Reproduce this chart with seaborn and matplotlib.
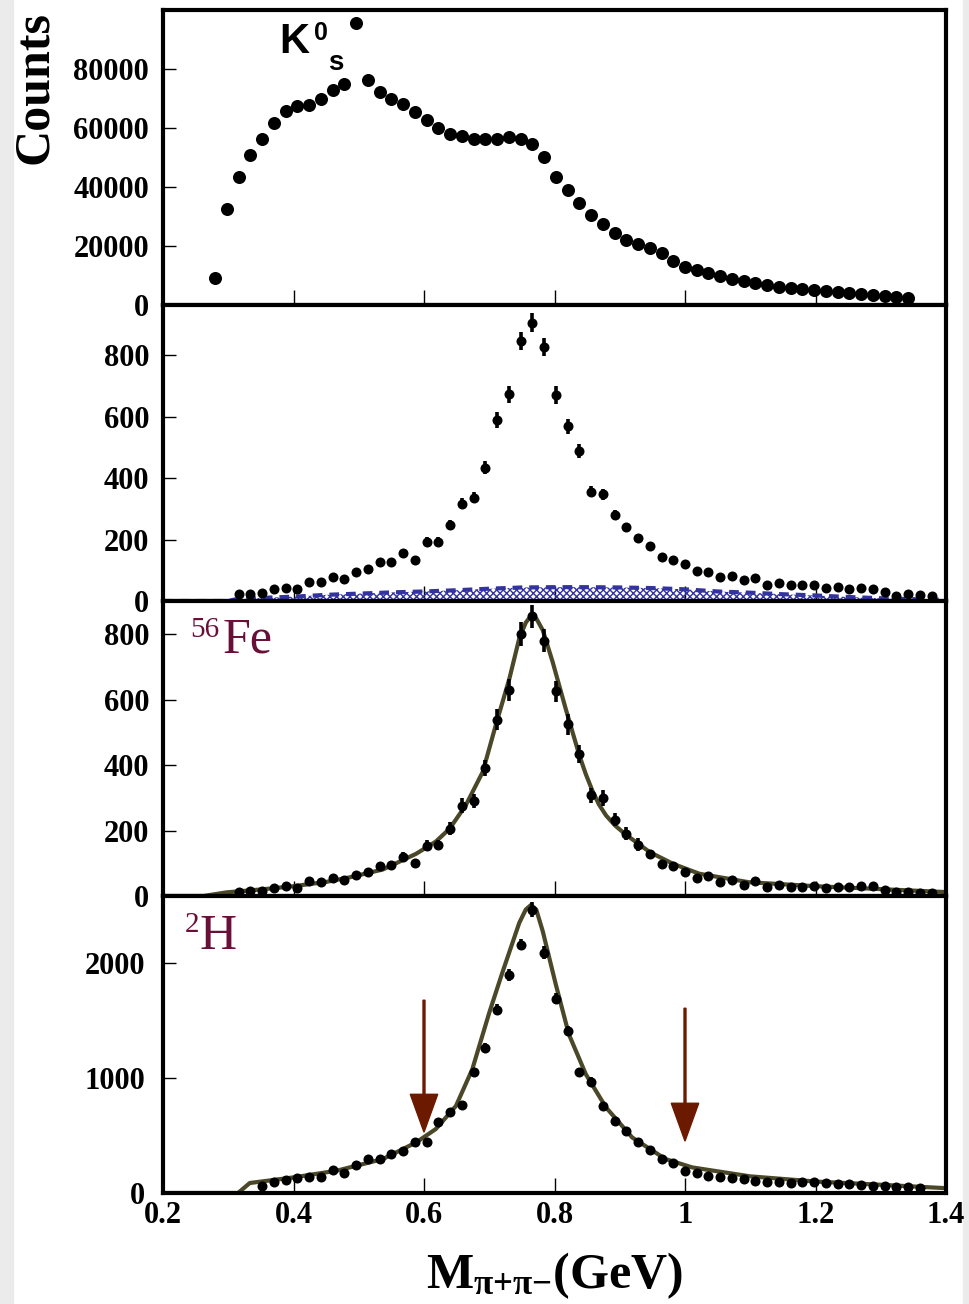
import matplotlib
matplotlib.use("Agg")
import matplotlib.pyplot as plt
import seaborn as sns
from matplotlib.patches import Rectangle

sns.set_style("white")
plt.rcParams['font.family'] = ['Liberation Serif', 'DejaVu Serif']
plt.rcParams['text.color'] = 'black'
plt.rcParams['axes.labelcolor'] = 'black'
plt.rcParams['xtick.color'] = 'black'
plt.rcParams['ytick.color'] = 'black'
plt.rcParams['mathtext.fontset'] = 'custom'
plt.rcParams['mathtext.rm'] = 'Liberation Serif:bold'
plt.rcParams['mathtext.bf'] = 'Liberation Serif:bold'
plt.rcParams['mathtext.it'] = 'Liberation Serif:bold'
plt.rcParams['hatch.linewidth'] = 1.0
plt.rcParams['lines.scale_dashes'] = False

# bin centres (GeV)
mass = [0.280, 0.298, 0.316, 0.334, 0.352, 0.370, 0.388, 0.406, 0.424, 0.442,
        0.460, 0.478, 0.496, 0.514, 0.532, 0.550, 0.568, 0.586, 0.604, 0.622,
        0.640, 0.658, 0.676, 0.694, 0.712, 0.730, 0.748, 0.766, 0.784, 0.802,
        0.820, 0.838, 0.856, 0.874, 0.892, 0.910, 0.928, 0.946, 0.964, 0.982,
        1.000, 1.018, 1.036, 1.054, 1.072, 1.090, 1.108, 1.126, 1.144, 1.162,
        1.180, 1.198, 1.216, 1.234, 1.252, 1.270, 1.288, 1.306, 1.324, 1.342,
        1.360, 1.378]

# panel 1 : K0s counts (bins 0..59)
kaon_counts = [9300, 32400, 43400, 50900, 56000, 61600, 65500, 67200, 67600, 69700,
               72600, 74900, 95400, 76000, 72200, 69800, 68000, 65400, 62700, 60000,
               58000, 57100, 56200, 56000, 56300, 56700, 56300, 54300, 50200, 43400,
               38800, 34500, 30500, 27500, 24500, 22000, 20700, 19300, 17500, 15000,
               13000, 11800, 10800, 9800, 8800, 8000, 7400, 6800, 6200, 5800,
               5400, 5100, 4700, 4400, 4000, 3700, 3300, 3000, 2800, 2400]

# panel 2 : raw rho candidates (bins 2..61)
raw_counts = [23, 23, 27, 38, 43, 38, 63, 63, 79, 72,
              94, 103, 127, 128, 155, 133, 193, 193, 247, 316,
              336, 434, 589, 672, 846, 906, 826, 670, 568, 488,
              356, 347, 280, 240, 205, 178, 142, 133, 119, 98,
              95, 79, 82, 67, 74, 53, 57, 51, 51, 51,
              41, 45, 39, 41, 39, 29, 16, 23, 20, 16]
raw_err = [5, 5, 5, 6, 7, 6, 8, 8, 9, 8,
           10, 10, 11, 11, 12, 12, 14, 14, 16, 18,
           18, 21, 25, 27, 29, 30, 29, 29, 25, 24,
           18, 18, 17, 15, 14, 13, 12, 12, 11, 10,
           10, 9, 9, 8, 9, 7, 8, 7, 7, 7,
           6, 7, 6, 6, 6, 5, 4, 5, 4, 4]

# background under panel 2
bkg_mass = [0.20, 0.30, 0.31, 0.35, 0.40, 0.45, 0.50, 0.55, 0.60, 0.65, 0.70, 0.75,
            0.80, 0.85, 0.90, 0.95, 1.00, 1.05, 1.10, 1.15, 1.20, 1.25, 1.30, 1.35, 1.40]
bkg_counts = [0, 0, 5, 10, 14, 20, 24, 28, 31, 35, 40, 44,
              45, 45, 44, 42, 38, 31, 27, 22, 18, 13, 9, 6, 4]

# panel 3 : 56Fe (bins 2..61)
fe_counts = [13, 16, 16, 25, 32, 24, 47, 42, 55, 50,
             64, 74, 93, 96, 120, 101, 154, 156, 205, 275,
             290, 391, 539, 629, 800, 854, 779, 625, 524, 434,
             307, 299, 233, 190, 157, 127, 98, 91, 74, 54,
             62, 44, 50, 34, 45, 26, 34, 29, 29, 32,
             24, 26, 26, 30, 30, 19, 12, 13, 8, 8]
fe_err = [5, 5, 5, 6, 7, 6, 9, 8, 9, 9,
          10, 11, 12, 12, 14, 13, 17, 16, 20, 23,
          22, 25, 31, 34, 36, 36, 35, 32, 33, 28,
          23, 24, 20, 20, 19, 14, 12, 12, 11, 9,
          10, 8, 9, 7, 8, 6, 7, 7, 7, 7,
          6, 6, 6, 7, 7, 5, 4, 5, 4, 4]
fe_fit_mass = [0.200, 0.262, 0.297, 0.350, 0.400, 0.450, 0.486, 0.537, 0.588, 0.618,
               0.639, 0.664, 0.690, 0.710, 0.731, 0.746, 0.756, 0.764, 0.772, 0.782,
               0.797, 0.817, 0.838, 0.848, 0.858, 0.868, 0.879, 0.893, 0.909, 0.946,
               0.982, 1.022, 1.098, 1.200, 1.300, 1.400]
fe_fit = [0, 0, 11, 20, 30, 43, 57, 81, 129, 166,
          205, 277, 379, 522, 665, 787, 835, 856, 848, 812,
          716, 573, 430, 372, 322, 280, 246, 215, 188, 134,
          98, 68, 42, 30, 21, 12]

# panel 4 : 2H (bins 4..60)
h_counts = [63, 93, 113, 128, 136, 136, 200, 174, 246, 296,
            296, 339, 368, 441, 441, 620, 710, 765, 1055, 1267,
            1597, 1898, 2165, 2470, 2093, 1693, 1411, 1055, 971, 754,
            629, 542, 441, 374, 296, 258, 194, 170, 150, 140,
            130, 120, 105, 100, 95, 90, 100, 95, 90, 80,
            75, 70, 60, 65, 55, 50, 45]
h_err = [9, 11, 12, 13, 13, 13, 16, 15, 18, 20,
         20, 21, 22, 24, 24, 29, 31, 32, 37, 41,
         50, 53, 51, 62, 58, 48, 43, 37, 36, 32,
         29, 27, 24, 22, 20, 18, 16, 15, 14, 13,
         13, 12, 12, 11, 11, 11, 11, 11, 11, 10,
         10, 9, 9, 9, 8, 8, 7]
h_fit_mass = [0.200, 0.315, 0.333, 0.400, 0.466, 0.537, 0.588, 0.618, 0.649, 0.674,
              0.700, 0.720, 0.746, 0.756, 0.764, 0.772, 0.782, 0.802, 0.822, 0.848,
              0.879, 0.919, 0.970, 1.011, 1.100, 1.200, 1.300, 1.400]
h_fit = [0, 0, 87, 136, 194, 296, 441, 557, 759, 1078,
         1571, 1919, 2354, 2470, 2510, 2470, 2281, 1817, 1383, 1035,
         745, 484, 296, 223, 145, 100, 72, 42]
cut_mass = [0.6, 1.0]
cut_top = [1680, 1610]
cut_tip = [530, 452]

x_ticks = [0.2, 0.4, 0.6, 0.8, 1.0, 1.2, 1.4]
x_labels = ["0.2", "0.4", "0.6", "0.8", "1", "1.2", "1.4"]

maroon = "#6a1038"
fit_col = "#4a4828"
bkg_col = "#3333a0"
arrow_col = "#6b1a00"

fig = plt.figure(figsize=(9.7, 13.04), dpi=100)
fig.patches.append(Rectangle((0, 0), 13 / 970, 1, transform=fig.transFigure,
                             color="#ebebeb", zorder=-1))
fig.patches.append(Rectangle((963 / 970, 0), 7 / 970, 1, transform=fig.transFigure,
                             color="#ebebeb", zorder=-1))


def add_panel(top, bottom):
    return fig.add_axes([163 / 970, 1 - bottom / 1304, 783 / 970, (bottom - top) / 1304])


def style(ax, ytop, yticks, ypad=10):
    ax.set_xlim(0.2, 1.4)
    ax.set_ylim(0, ytop)
    ax.set_yticks(yticks)
    ax.set_yticklabels([str(t) for t in yticks], fontweight="bold", fontsize=22)
    ax.set_xticks(x_ticks)
    ax.tick_params(axis="y", direction="in", length=9.5, width=1, pad=ypad,
                   left=True, right=False)
    ax.tick_params(axis="x", direction="in", length=11, width=1,
                   bottom=True, top=False, labelbottom=False)
    for s in ax.spines.values():
        s.set_linewidth(3)
        s.set_color("black")
    ax.set_xlabel("")
    ax.set_ylabel("")


# --- panel 1: K0s ---
ax1 = add_panel(10, 305)
sns.scatterplot(x=mass[:60], y=kaon_counts, ax=ax1, color="black", s=88,
                linewidth=0, zorder=3)
style(ax1, 99800, [0, 20000, 40000, 60000, 80000])
ax1.text(0.149, 0.854, "K", transform=ax1.transAxes, fontsize=30, fontweight="bold",
         family="Liberation Sans", va="baseline")
ax1.text(0.193, 0.898, "0", transform=ax1.transAxes, fontsize=18, fontweight="bold",
         family="Liberation Sans", va="baseline")
ax1.text(0.211, 0.797, "s", transform=ax1.transAxes, fontsize=20, fontweight="bold",
         family="Liberation Sans", va="baseline")

# --- panel 2: raw spectrum with background ---
ax2 = add_panel(305, 601)
ax2.fill_between(bkg_mass, 0, bkg_counts, facecolor="none", edgecolor=bkg_col,
                 hatch="xxxxx", linewidth=0, zorder=1)
ax2.plot(bkg_mass, bkg_counts, color=bkg_col, linewidth=3, dashes=(7, 5), zorder=2)
ax2.errorbar(mass[2:], raw_counts, yerr=raw_err, fmt="none", ecolor="black",
             elinewidth=2.6, capsize=0, zorder=3)
sns.scatterplot(x=mass[2:], y=raw_counts, ax=ax2, color="black", s=52,
                linewidth=0, zorder=4)
style(ax2, 963, [0, 200, 400, 600, 800])

# --- panel 3: 56Fe ---
ax3 = add_panel(601, 896)
sns.lineplot(x=fe_fit_mass, y=fe_fit, ax=ax3, color=fit_col, linewidth=3, zorder=2)
ax3.errorbar(mass[2:], fe_counts, yerr=fe_err, fmt="none", ecolor="black",
             elinewidth=2.6, capsize=0, zorder=3)
sns.scatterplot(x=mass[2:], y=fe_counts, ax=ax3, color="black", s=52,
                linewidth=0, zorder=4)
style(ax3, 901, [0, 200, 400, 600, 800])
ax3.text(0.0345, 0.878, "56", transform=ax3.transAxes, fontsize=21, color=maroon,
         va="baseline")
ax3.text(0.0755, 0.826, "Fe", transform=ax3.transAxes, fontsize=36, color=maroon,
         va="baseline")

# --- panel 4: 2H ---
ax4 = add_panel(896, 1193)
sns.lineplot(x=h_fit_mass, y=h_fit, ax=ax4, color=fit_col, linewidth=3, zorder=2)
ax4.errorbar(mass[4:61], h_counts, yerr=h_err, fmt="none", ecolor="black",
             elinewidth=2.6, capsize=0, zorder=3)
sns.scatterplot(x=mass[4:61], y=h_counts, ax=ax4, color="black", s=52,
                linewidth=0, zorder=4)
style(ax4, 2588, [0, 1000, 2000], ypad=13)
for xm, yt, yb in zip(cut_mass, cut_top, cut_tip):
    ax4.arrow(xm, yt, 0, yb - yt, width=0.003, head_width=0.042, head_length=330,
              length_includes_head=True, color=arrow_col, zorder=5)
ax4.text(0.028, 0.878, "2", transform=ax4.transAxes, fontsize=21, color=maroon,
         va="baseline")
ax4.text(0.047, 0.821, "H", transform=ax4.transAxes, fontsize=37, color=maroon,
         va="baseline")
ax4.set_xticklabels(x_labels, fontweight="bold", fontsize=22)
ax4.tick_params(axis="x", labelbottom=True, pad=6)

fig.text(35 / 970, 1 - 88 / 1304, "Counts", rotation=90, fontsize=36,
         fontweight="bold", ha="center", va="center")
fig.text(554.5 / 970, 1 - 1288 / 1304, r"$\mathbf{M}_{\mathbf{π{+}π{-}}}$(GeV)",
         fontsize=36, fontweight="bold", ha="center", va="baseline")

fig.savefig("out.png", dpi=100)
